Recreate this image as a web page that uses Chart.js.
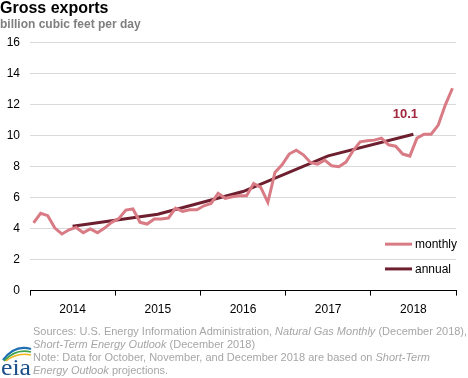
<!DOCTYPE html>
<html>
<head>
<meta charset="utf-8">
<script src="https://cdn.jsdelivr.net/npm/chart.js@4/dist/chart.umd.min.js"></script>
<style>
  html, body { margin: 0; padding: 0; background: #fff; }
  #wrap { position: relative; width: 468px; height: 378px; overflow: hidden; }
  canvas { position: absolute; left: 0; top: 0; }
  #foot { position: absolute; left: 33px; top: 325px; width: 440px; font-family: "Liberation Sans", Arial, sans-serif; font-size: 11px; line-height: 13px; color: #a6a6a6; white-space: nowrap; }
  #logo { position: absolute; left: 0; top: 343px; }
</style>
</head>
<body>
<div id="wrap">
  <canvas id="c" width="468" height="378"></canvas>
  <div id="foot">
    Sources: U.S. Energy Information Administration, <i>Natural Gas Monthly</i> (December 2018),<br>
    <i>Short-Term Energy Outlook</i> (December 2018)<br>
    Note: Data for October, November, and December 2018 are based on <i>Short-Term</i><br>
    <i>Energy Outlook</i> projections.
  </div>
  <svg id="logo" width="34" height="35" viewBox="0 0 34 35">
    <path d="M3 17 Q15 1 31 6" stroke="#1f6fb5" stroke-width="2.2" fill="none"/>
    <path d="M4 18 Q16 5 31 9" stroke="#3fa34d" stroke-width="1.8" fill="none"/>
    <path d="M6 18 Q17 9 31 12" stroke="#f2b51c" stroke-width="1.6" fill="none"/>
    <text x="1" y="32" font-family="'Liberation Serif', 'DejaVu Serif', serif" font-size="24" fill="#1b4f8a" textLength="30" lengthAdjust="spacingAndGlyphs">eia</text>
  </svg>
</div>
<script>
const years = ['2014', '2015', '2016', '2017', '2018'];
const monthly = [
  4.37, 4.99, 4.84, 4.04, 3.66, 3.93, 4.08, 3.74, 3.98, 3.74, 4.04, 4.41,
  4.65, 5.20, 5.27, 4.41, 4.30, 4.62, 4.62, 4.69, 5.33, 5.12, 5.22, 5.22,
  5.48, 5.63, 6.28, 5.96, 6.06, 6.13, 6.13, 6.92, 6.67, 5.70, 7.63, 8.13,
  8.82, 9.07, 8.77, 8.28, 8.17, 8.43, 8.06, 8.00, 8.30, 9.03, 9.61, 9.68,
  9.72, 9.85, 9.42, 9.33, 8.82, 8.69, 9.85, 10.10, 10.10, 10.69, 12.00, 13.07
];
const annual = [4.15, 4.93, 6.40, 8.70, 10.1];
const annualLabel = '10.1';
const seriesNames = ['monthly', 'annual'];

const monthlyColor = '#d97b85';
const annualColor = '#6e1f2f';

const monthlyPts = monthly.map((v, i) => ({ x: i + 0.5, y: v }));
const annualPts = annual.map((v, i) => ({ x: i * 12 + 6, y: v }));

const FONT = '"Liberation Sans", Arial, sans-serif';

const overlay = {
  id: 'overlay',
  afterDatasetsDraw(chart) {
    const ctx = chart.ctx;
    const ca = chart.chartArea;
    const xs = chart.scales.x, ys = chart.scales.y;
    const last = annualPts[annualPts.length - 1];
    const px = xs.getPixelForValue(last.x), py = ys.getPixelForValue(last.y);
    ctx.save();
    ctx.font = 'bold 13px ' + FONT;
    ctx.fillStyle = '#a1283f';
    ctx.textAlign = 'center';
    ctx.textBaseline = 'middle';
    ctx.fillText(annualLabel, px - 8, py - 20);
    const items = [
      { label: seriesNames[0], color: monthlyColor, y: ys.getPixelForValue(3.0) },
      { label: seriesNames[1], color: annualColor, y: ys.getPixelForValue(1.4) }
    ];
    ctx.font = '12px ' + FONT;
    ctx.textAlign = 'left';
    items.forEach(it => {
      ctx.strokeStyle = it.color;
      ctx.lineWidth = 3;
      ctx.beginPath();
      ctx.moveTo(ca.right - 71, it.y);
      ctx.lineTo(ca.right - 44, it.y);
      ctx.stroke();
      ctx.fillStyle = '#000';
      ctx.fillText(it.label, ca.right - 41, it.y + 1);
    });
    ctx.restore();
  }
};

new Chart(document.getElementById('c'), {
  type: 'line',
  data: {
    datasets: [
      { label: seriesNames[0], data: monthlyPts, borderColor: monthlyColor, borderWidth: 3, pointRadius: 0, tension: 0, fill: false },
      { label: seriesNames[1], data: annualPts, borderColor: annualColor, borderWidth: 3, pointRadius: 0, tension: 0, fill: false }
    ]
  },
  options: {
    responsive: false,
    animation: false,
    devicePixelRatio: 1,
    layout: { padding: { left: 0, right: 12, top: 0, bottom: 54 } },
    plugins: {
      legend: { display: false },
      tooltip: { enabled: false },
      title: {
        display: true, text: 'Gross exports', align: 'start', color: '#000',
        font: { family: FONT, size: 16, weight: 'bold', lineHeight: 1 },
        padding: { top: 1, bottom: 0 }
      },
      subtitle: {
        display: true, text: 'billion cubic feet per day', align: 'start', color: '#7f7f7f',
        font: { family: FONT, size: 12, weight: 'bold', lineHeight: 1.2 },
        padding: { top: 0, bottom: 11.5 }
      }
    },
    scales: {
      x: {
        type: 'linear', min: 0, max: 60,
        afterBuildTicks(s) { s.ticks = []; for (let v = 0; v <= 60; v += 6) s.ticks.push({ value: v }); },
        ticks: {
          autoSkip: false, maxRotation: 0, padding: 7, color: '#000',
          font: { family: FONT, size: 12 },
          callback: v => (v % 12 === 6 ? years[(v - 6) / 12] : '')
        },
        grid: {
          drawOnChartArea: false, drawTicks: true, tickLength: 5,
          color: c => (c.tick && c.tick.value % 12 === 0 ? '#000' : 'rgba(0,0,0,0)')
        },
        border: { display: true, color: '#000', width: 1 }
      },
      y: {
        min: 0, max: 16,
        afterFit(s) { s.width = 30; },
        ticks: { stepSize: 2, padding: 10, color: '#000', font: { family: FONT, size: 12 } },
        grid: { color: '#d9d9d9', drawTicks: false, lineWidth: 1 },
        border: { display: false }
      }
    }
  },
  plugins: [overlay]
});
</script>
</body>
</html>
